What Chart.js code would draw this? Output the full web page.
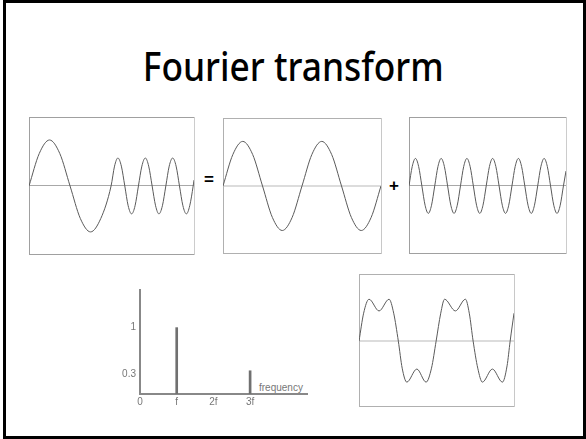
<!DOCTYPE html>
<html><head><meta charset="utf-8">
<script src="https://cdn.jsdelivr.net/npm/chart.js@4.4.1/dist/chart.umd.min.js"></script>
<style>
html,body{margin:0;padding:0;background:#fff;}
body{width:586px;height:439px;position:relative;overflow:hidden;font-family:"Liberation Sans",Arial,sans-serif;}
#frame{position:absolute;left:3px;top:0;width:583px;height:439px;border:3px solid #000;box-sizing:border-box;}
canvas{position:absolute;}
#title{position:absolute;left:0;top:46px;width:586px;text-align:center;font-family:"Noto Sans";font-weight:500;font-size:39px;line-height:39px;white-space:nowrap;color:#000;}
#tt{display:inline-block;transform-origin:50% 50%;}
.op{position:absolute;font-weight:bold;font-size:17px;line-height:17px;width:20px;text-align:center;color:#000;font-family:"Liberation Sans",Arial,sans-serif;}
#freq{position:absolute;left:259px;top:382px;font-size:10px;line-height:12px;color:#777;font-family:"Liberation Sans",Arial,sans-serif;}
</style></head>
<body>
<div id="frame"></div>
<div id="title"><span id="tt">Fourier transform</span></div>
<div class="op" style="left:199px;top:171px">=</div>
<div class="op" style="left:384px;top:177px">+</div>
<div id="freq">frequency</div>
<canvas id="c1" width="168" height="140" style="left:28px;top:116px"></canvas>
<canvas id="c2" width="161" height="138" style="left:222px;top:117px"></canvas>
<canvas id="c3" width="160" height="139" style="left:408px;top:116px"></canvas>
<canvas id="c4" width="205" height="130" style="left:115px;top:280px"></canvas>
<canvas id="c5" width="158" height="135" style="left:358px;top:273px"></canvas>
<script>
// ---- data ----
// Signal 1: one slow cycle followed by three fast cycles
const sig1T = [0,0.125,0.25,0.375,0.5,0.625,0.75,0.875,1.0,
  1.042,1.083,1.125,1.167,1.208,1.25,1.292,1.333,1.375,1.417,1.458,1.5,
  1.542,1.583,1.625,1.667,1.708,1.75,1.792,1.833,1.875,1.917,1.958,2.0,2.01];
const sig1V = [0,0.72,1.02,0.72,0,-0.72,-1.02,-0.72,0,
  0.44,0.62,0.44,0,-0.44,-0.62,-0.44,0,0.44,0.62,0.44,0,
  -0.44,-0.62,-0.44,0,0.44,0.62,0.44,0,-0.44,-0.62,-0.44,0,0.13];
// Signal 2: fundamental f
const sig2T = [0,0.125,0.25,0.375,0.5,0.625,0.75,0.875,1.0,1.125,1.25,1.375,1.5,1.625,1.75,1.875,2.0];
const sig2V = [0,0.7,0.99,0.7,0,-0.7,-0.99,-0.7,0,0.7,0.99,0.7,0,-0.7,-0.99,-0.7,0];
// Signal 3: harmonic 3f
const sig3T = [0,0.125,0.25,0.375,0.5,0.625,0.75,0.875,
  1,1.125,1.25,1.375,1.5,1.625,1.75,1.875,
  2,2.125,2.25,2.375,2.5,2.625,2.75,2.875,
  3,3.125,3.25,3.375,3.5,3.625,3.75,3.875,
  4,4.125,4.25,4.375,4.5,4.625,4.75,4.875,
  5,5.125,5.25,5.375,5.5,5.625,5.75,5.875,6,6.1];
const sig3V = [0,0.43,0.61,0.43,0,-0.43,-0.61,-0.43,
  0,0.43,0.61,0.43,0,-0.43,-0.61,-0.43,
  0,0.43,0.61,0.43,0,-0.43,-0.61,-0.43,
  0,0.43,0.61,0.43,0,-0.43,-0.61,-0.43,
  0,0.43,0.61,0.43,0,-0.43,-0.61,-0.43,
  0,0.43,0.61,0.43,0,-0.43,-0.61,-0.43,0,0.33];
// Signal 5: sum f + 3f
const sig5T = [0,0.06,0.13,0.26,0.39,0.45,0.51,0.56,0.62,0.75,0.87,0.94,1.0,
  1.06,1.11,1.25,1.38,1.43,1.48,1.54,1.6,1.73,1.86,1.92,1.96,2.01];
const sig5V = [0,0.62,0.93,0.67,0.93,0.62,0,-0.6,-0.91,-0.62,-0.91,-0.6,0,
  0.62,0.93,0.67,0.93,0.62,0,-0.6,-0.91,-0.62,-0.91,-0.55,0,0.62];
// Spectrum
const specFreq = [1, 3];
const specAmp = [1, 0.35];
const freqTicks = [0, 1, 2, 3];
const freqLabels = ['0', 'f', '2f', '3f'];
const ampTicks = [0.3, 1];
const ampLabels = ['0.3', '1'];

// ---- drawing ----
function edge(axis, pos, color, min, max) {
  return {type:'linear', axis, position:pos, display:true, min, max,
    ticks:{display:false}, grid:{display:false, drawTicks:false},
    border:{display:true, color, width:1}};
}
function waveChart(id, ts, vs, xMax, yMin, yMax, st) {
  const yAxis = edge('y', 'left', st.box, yMin, yMax);
  yAxis.afterBuildTicks = s => { s.ticks = [{value:0}]; };
  yAxis.grid = {display:true, drawTicks:false, color: st.zero, lineWidth: st.zeroW};
  new Chart(document.getElementById(id), {
    type:'line',
    data:{datasets:[{data: ts.map((t,i)=>({x:t, y:vs[i]})), borderColor:st.line, borderWidth:1,
      pointRadius:0, cubicInterpolationMode:'monotone', fill:false}]},
    options:{responsive:false, animation:false, devicePixelRatio:1,
      layout:{padding:{left:1, top:1, right:2, bottom:2}},
      plugins:{legend:{display:false}, tooltip:{enabled:false}},
      scales:{
        x: edge('x', 'bottom', st.box, 0, xMax),
        xTop: edge('x', 'top', st.box, 0, xMax),
        y: yAxis,
        yRight: edge('y', 'right', st.boxR, yMin, yMax)
      }}
  });
}
const thin = {line:'#5a5a5a', box:'#a0a0a0', boxR:'#cccccc', zero:'#a8a8a8', zeroW:1};
const thick = {line:'#5a5a5a', box:'#b0b0b0', boxR:'#c8c8c8', zero:'#dcdcdc', zeroW:2};
waveChart('c1', sig1T, sig1V, 2.01, -1.51, 1.53, thin);
waveChart('c2', sig2T, sig2V, 2.0, -1.49, 1.51, thick);
waveChart('c3', sig3T, sig3V, 6.1, -1.49, 1.53, thin);
waveChart('c5', sig5T, sig5V, 2.01, -1.44, 1.49, thick);

new Chart(document.getElementById('c4'), {
  type:'bar',
  data:{datasets:[{data: specFreq.map((f,i)=>({x:f, y:specAmp[i]})), backgroundColor:'#707070', barThickness:2, borderWidth:0}]},
  options:{responsive:false, animation:false, devicePixelRatio:1,
    layout:{padding:{left:0, top:9, right:13, bottom:0}},
    plugins:{legend:{display:false}, tooltip:{enabled:false}},
    scales:{
      x:{type:'linear', min:0, max:4.55, offset:false,
        grid:{display:false, drawTicks:false}, border:{display:true, color:'#888', width:2},
        afterBuildTicks: s => { s.ticks = freqTicks.map(v=>({value:v})); },
        ticks:{color:'#777', font:{size:10, family:'Liberation Sans'}, padding:2, autoSkip:false, maxRotation:0,
          callback:(v,i)=>freqLabels[i]},
        afterFit: s => { s.height = 16; }},
      y:{type:'linear', min:0, max:1.567,
        grid:{display:false, drawTicks:false}, border:{display:true, color:'#888', width:2},
        afterBuildTicks: s => { s.ticks = ampTicks.map(v=>({value:v})); },
        ticks:{color:'#777', font:{size:10, family:'Liberation Sans'}, padding:4,
          callback:(v,i)=>ampLabels[i]},
        afterFit: s => { s.width = 25; }}
    }}
});

// fit title width to reference
const tt = document.getElementById('tt');
const w = tt.getBoundingClientRect().width;
tt.style.transform = 'scaleX(' + (301 / w) + ')';
</script>
</body></html>
